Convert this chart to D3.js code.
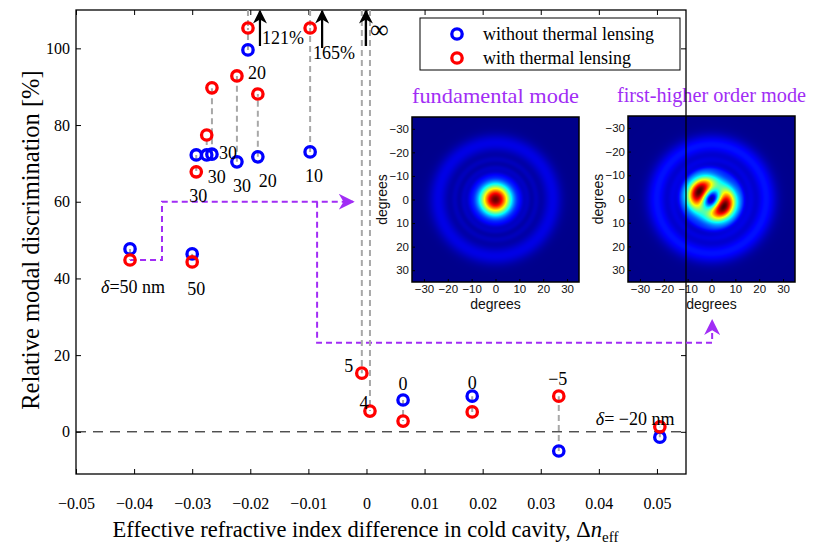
<!DOCTYPE html>
<html>
<head>
<meta charset="utf-8">
<script src="https://cdn.jsdelivr.net/npm/d3@7"></script>
<style>
  body { margin: 0; background: #fff; }
  svg { display: block; }
</style>
</head>
<body>
<div id="chart"></div>
<script>
// == data ==
// effective refractive index difference of each device
var dn = [-0.0407, -0.0300, -0.0293, -0.0275, -0.0266, -0.0223, -0.0204, -0.0187,
          -0.0097, -0.0008, 0.0006, 0.0063, 0.0182, 0.0331, 0.0505];
// relative modal discrimination [%], null = infinite
var disc_no_tl = [47.7, 46.4, 72.2, 72.2, 72.4, 70.4, 99.6, 71.7, 73.0, null, null, 8.3, 9.3, -5.0, -1.4];
var disc_tl    = [44.8, 44.3, 67.8, 77.4, 89.7, 92.8, 105.3, 88.1, 105.3, 15.3, 5.4, 2.8, 5.2, 9.3, 1.3];
// etch offset delta for each device
var delta_labels = ["\u03b4=50 nm", "50", "30", "30", "30", "30", "20", "20", "10", "5", "4", "0", "0", "\u22125", "\u03b4= \u221220 nm"];
// values beyond the top of the axis
var offscale_idx = [6, 8];
var offscale_text = ["121%", "165%"];
var infinite_idx = [9, 10];

var x_ticks = [-0.05, -0.04, -0.03, -0.02, -0.01, 0, 0.01, 0.02, 0.03, 0.04, 0.05];
var y_ticks = [0, 20, 40, 60, 80, 100];
var inset_ticks = [-30, -20, -10, 0, 10, 20, 30];
var series_names = ["without thermal lensing", "with thermal lensing"];

// label placement (ref point, dx, dy in px, anchor)
var label_pos = [
  ["r", 3, 27, "middle"], ["r", 4, 27, "middle"], ["r", 2, 24, "middle"],
  ["b", 10, 22, "middle"], ["b", 16, -1, "middle"], ["b", 5, 24, "middle"],
  ["b", 9, 23, "middle"], ["b", 10, 24, "middle"], ["b", 4, 24, "middle"],
  ["r", -13, -7, "middle"], ["r", -6, -8, "middle"], ["b", 0, -16, "middle"],
  ["b", 0, -13, "middle"], ["r", -1, -17, "middle"], ["r", -64, -8, "start"]
];

var BLUE = "#0000ff", RED = "#ff0000", PURPLE = "#a12df5", GREY = "#a8a8a8";
var SERIF = "Liberation Serif, Times New Roman, serif";
var SANS = "Liberation Sans, Arial, sans-serif";

var W = 815, H = 550;
var svg = d3.select("#chart").append("svg")
  .attr("width", W).attr("height", H);

var defs = svg.append("defs");
function arrowMarker(id, color, size) {
  defs.append("marker")
    .attr("id", id)
    .attr("viewBox", "0 0 10 10")
    .attr("refX", 9).attr("refY", 5)
    .attr("markerWidth", size).attr("markerHeight", size)
    .attr("markerUnits", "userSpaceOnUse")
    .attr("orient", "auto")
    .append("path").attr("d", "M0,0 L10,5 L0,10 L3,5 Z").attr("fill", color);
}
arrowMarker("arr-purple", PURPLE, 16);
arrowMarker("arr-black", "#000", 14);

// == scales ==
var x = d3.scaleLinear().domain([-0.05, 0.055]).range([76, 686]);
var y = d3.scaleLinear().domain([-11, 110]).range([474, 10]);

// == axes ==
var fmt = function (d) { return d === 0 ? "0" : d3.format(".2f")(d); };
var gx = svg.append("g")
  .attr("transform", "translate(0," + y.range()[0] + ")")
  .call(d3.axisBottom(x).tickValues(x_ticks).tickSizeInner(-5).tickSizeOuter(0).tickPadding(24).tickFormat(fmt));
var gxt = svg.append("g")
  .attr("transform", "translate(0," + y.range()[1] + ")")
  .call(d3.axisTop(x).tickValues(x_ticks).tickSizeInner(-5).tickSizeOuter(0).tickFormat(""));
var gy = svg.append("g")
  .attr("transform", "translate(" + x.range()[0] + ",0)")
  .call(d3.axisLeft(y).tickValues(y_ticks).tickSizeInner(-5).tickSizeOuter(0).tickPadding(6));
var gyr = svg.append("g")
  .attr("transform", "translate(" + x.range()[1] + ",0)")
  .call(d3.axisRight(y).tickValues(y_ticks).tickSizeInner(-5).tickSizeOuter(0).tickFormat(""));
[gx, gxt, gy, gyr].forEach(function (g) {
  g.attr("font-family", SERIF).attr("font-size", 16);
  g.select(".domain").remove();
  g.selectAll("line").attr("stroke", "#000");
  g.selectAll("text").attr("fill", "#000");
});

// axis titles
svg.append("text")
  .attr("font-family", SERIF).attr("font-size", 24.5)
  .attr("transform", "translate(39," + y(50) + ") rotate(-90)")
  .attr("text-anchor", "middle")
  .text("Relative modal discrimination [%]");

var xl = svg.append("text")
  .attr("font-family", SERIF).attr("font-size", 22.5)
  .attr("x", x(0) - 1).attr("y", 537)
  .attr("text-anchor", "middle");
xl.append("tspan").text("Effective refractive index difference in cold cavity, \u0394");
xl.append("tspan").attr("font-style", "italic").text("n");
xl.append("tspan").attr("dy", 5).attr("font-size", 15).text("eff");

// zero line
svg.append("line")
  .attr("x1", x.range()[0]).attr("x2", x.range()[1])
  .attr("y1", y(0)).attr("y2", y(0))
  .attr("stroke", "#000").attr("stroke-width", 1)
  .attr("stroke-dasharray", "10,7");

// == insets (far-field patterns) ==
function jet(t) {
  var c = function (v) { return Math.max(0, Math.min(1, v)); };
  return [c(1.5 - Math.abs(4 * t - 3)) * 255, c(1.5 - Math.abs(4 * t - 2)) * 255, c(1.5 - Math.abs(4 * t - 1)) * 255];
}
function g(r, c, s) { return Math.exp(-Math.pow((r - c) / s, 2)); }

function fundamental(u, v) {
  var r = Math.sqrt(u * u + v * v);
  return 0.01 + 0.99 * Math.exp(-Math.pow(r / 6.5, 2)) + 0.085 * g(r, 24, 3.8)
    + 0.035 * g(r, 17, 1.5) + 0.03 * g(r, 13.5, 1.3) + 0.025 * g(r, 10.5, 1.1) + 0.02 * g(r, 0, 20);
}
function higher(u, v) {
  var r = Math.sqrt(u * u + v * v);
  var a = Math.atan2(2.5, 4);
  var th = Math.atan2(v, u);
  var rho = r / 6.1;
  var radial = Math.E * rho * rho * Math.exp(-rho * rho);
  var ang = Math.pow(Math.cos(th - a), 2);
  return 0.01 + radial * (0.42 + 0.6 * ang) + 0.12 * g(r, 23, 4.2)
    + 0.05 * g(r, 16.5, 1.8) + 0.045 * g(r, 12.5, 1.5) + 0.03 * g(r, 0, 22);
}

function fieldImage(fn, w, h) {
  var cv = document.createElement("canvas");
  cv.width = w; cv.height = h;
  var ctx = cv.getContext("2d");
  var img = ctx.createImageData(w, h);
  for (var j = 0; j < h; j++) {
    for (var i = 0; i < w; i++) {
      var u = -35 + (i + 0.5) / w * 70, v = -35 + (j + 0.5) / h * 70;
      var c = jet(fn(u, v));
      var k = (j * w + i) * 4;
      img.data[k] = c[0]; img.data[k + 1] = c[1]; img.data[k + 2] = c[2]; img.data[k + 3] = 255;
    }
  }
  ctx.putImageData(img, 0, 0);
  return cv.toDataURL();
}

var insets = [
  { x: 412, y: 117, w: 167, h: 165, fn: fundamental, title: "fundamental mode", tl: 167 },
  { x: 628, y: 116, w: 167, h: 166, fn: higher, title: "first-higher order mode", tl: 189 }
];

insets.forEach(function (d) {
  var gi = svg.append("g").attr("transform", "translate(" + d.x + "," + d.y + ")");
  var ix = d3.scaleLinear().domain([-35, 35]).range([0, d.w]);
  var iy = d3.scaleLinear().domain([-35, 35]).range([0, d.h]);
  gi.append("image").attr("width", d.w).attr("height", d.h)
    .attr("preserveAspectRatio", "none")
    .attr("href", fieldImage(d.fn, d.w, d.h));
  gi.append("rect").attr("width", d.w).attr("height", d.h)
    .attr("fill", "none").attr("stroke", "#000").attr("stroke-width", 1.5);
  var ax = gi.append("g").attr("transform", "translate(0," + d.h + ")")
    .call(d3.axisBottom(ix).tickValues(inset_ticks).tickSizeInner(-3).tickSizeOuter(0).tickPadding(3));
  var ay = gi.append("g")
    .call(d3.axisLeft(iy).tickValues(inset_ticks).tickSizeInner(-3).tickSizeOuter(0).tickPadding(3));
  [ax, ay].forEach(function (a) {
    a.attr("font-family", SANS).attr("font-size", 11.5);
    a.select(".domain").remove();
    a.selectAll("line").attr("stroke", "#000");
    a.selectAll("text").attr("fill", "#111");
  });
  gi.append("text").attr("font-family", SANS).attr("font-size", 14)
    .attr("x", d.w / 2).attr("y", d.h + 27)
    .attr("text-anchor", "middle").attr("fill", "#111")
    .text("degrees");
  gi.append("text").attr("font-family", SANS).attr("font-size", 14)
    .attr("transform", "translate(-25," + (d.h / 2) + ") rotate(-90)")
    .attr("text-anchor", "middle").attr("fill", "#111")
    .text("degrees");
  gi.append("text").attr("font-family", SERIF).attr("font-size", 21)
    .attr("x", d.w / 2).attr("y", -14)
    .attr("text-anchor", "middle").attr("fill", PURPLE)
    .attr("textLength", d.tl).attr("lengthAdjust", "spacingAndGlyphs")
    .text(d.title);
});

// frame (drawn over insets, as in the figure)
svg.append("rect")
  .attr("x", x.range()[0]).attr("y", y.range()[1])
  .attr("width", x.range()[1] - x.range()[0]).attr("height", y.range()[0] - y.range()[1])
  .attr("fill", "none").attr("stroke", "#000").attr("stroke-width", 1.3);

// == purple guide arrows ==
var guide1 = [[dn[0], disc_tl[0]], [-0.0352, disc_tl[0]], [-0.0352, 60], [-0.0023, 60]];
var guide2 = [[-0.0085, 60], [-0.0085, 23.2], [0.0595, 23.2], [0.0595, 29]];
var line = d3.line().x(function (d) { return x(d[0]); }).y(function (d) { return y(d[1]); });
[guide1, guide2].forEach(function (p) {
  svg.append("path").attr("d", line(p))
    .attr("fill", "none").attr("stroke", PURPLE).attr("stroke-width", 2)
    .attr("stroke-dasharray", "6,4")
    .attr("marker-end", "url(#arr-purple)");
});

// == grey connectors ==
var conn = svg.append("g").attr("stroke", GREY).attr("stroke-width", 2).attr("stroke-dasharray", "6,4");
dn.forEach(function (d, i) {
  var top = disc_no_tl[i] === null ? y.domain()[1] : disc_no_tl[i];
  conn.append("line")
    .attr("x1", x(d)).attr("x2", x(d))
    .attr("y1", y(top)).attr("y2", y(disc_tl[i]));
});
offscale_idx.forEach(function (i) {
  conn.append("line")
    .attr("x1", x(dn[i])).attr("x2", x(dn[i]))
    .attr("y1", y(y.domain()[1])).attr("y2", y(disc_tl[i]));
});

// == points ==
function rings(vals, color) {
  svg.append("g").selectAll("circle")
    .data(dn.map(function (d, i) { return [d, vals[i]]; }).filter(function (d) { return d[1] !== null; }))
    .enter().append("circle")
    .attr("cx", function (d) { return x(d[0]); })
    .attr("cy", function (d) { return y(d[1]); })
    .attr("r", 5.2)
    .attr("fill", "none").attr("stroke", color).attr("stroke-width", 3.3);
}
rings(disc_no_tl, BLUE);
rings(disc_tl, RED);

// == delta labels ==
svg.append("g").attr("font-family", SERIF).attr("font-size", 18)
  .selectAll("text").data(delta_labels).enter().append("text")
  .attr("text-anchor", function (d, i) { return label_pos[i][3]; })
  .attr("x", function (d, i) { return x(dn[i]) + label_pos[i][1]; })
  .attr("y", function (d, i) {
    var v = label_pos[i][0] === "r" ? disc_tl[i] : disc_no_tl[i];
    return y(v) + label_pos[i][2] + 6;
  })
  .each(function (d) {
    var t = d3.select(this);
    if (d.charAt(0) === "\u03b4") {
      t.append("tspan").attr("font-style", "italic").text("\u03b4");
      t.append("tspan").text(d.slice(1));
    } else {
      t.text(d);
    }
  });

// == off-scale arrows ==
offscale_idx.forEach(function (idx, k) {
  var ax0 = x(dn[idx]) + 12;
  var ybot = k === 0 ? 46 : 48;
  svg.append("line").attr("x1", ax0).attr("x2", ax0)
    .attr("y1", ybot).attr("y2", y(y.domain()[1]) + 1)
    .attr("stroke", "#000").attr("stroke-width", 2.2)
    .attr("marker-end", "url(#arr-black)");
  svg.append("text").attr("font-family", SERIF).attr("font-size", 18)
    .attr("x", k === 0 ? ax0 + 2 : ax0 - 9)
    .attr("y", k === 0 ? 44 : 59)
    .text(offscale_text[k]);
});
var xinf = x((dn[infinite_idx[0]] + dn[infinite_idx[1]]) / 2);
svg.append("line").attr("x1", xinf).attr("x2", xinf)
  .attr("y1", 46).attr("y2", y(y.domain()[1]) + 1)
  .attr("stroke", "#000").attr("stroke-width", 2.4)
  .attr("marker-end", "url(#arr-black)");
svg.append("text").attr("font-family", SERIF).attr("font-size", 26)
  .attr("x", xinf + 4).attr("y", 38).text("\u221e");

// == legend ==
var lg = svg.append("g").attr("transform", "translate(420,18)");
lg.append("rect").attr("width", 260).attr("height", 52)
  .attr("fill", "#fff").attr("stroke", "#000").attr("stroke-width", 1);
[BLUE, RED].forEach(function (c, i) {
  lg.append("circle").attr("cx", 37).attr("cy", 16 + i * 24).attr("r", 5.2)
    .attr("fill", "none").attr("stroke", c).attr("stroke-width", 3.3);
  lg.append("text").attr("font-family", SERIF).attr("font-size", 18)
    .attr("x", 63).attr("y", 22 + i * 24).text(series_names[i]);
});
</script>
</body>
</html>
